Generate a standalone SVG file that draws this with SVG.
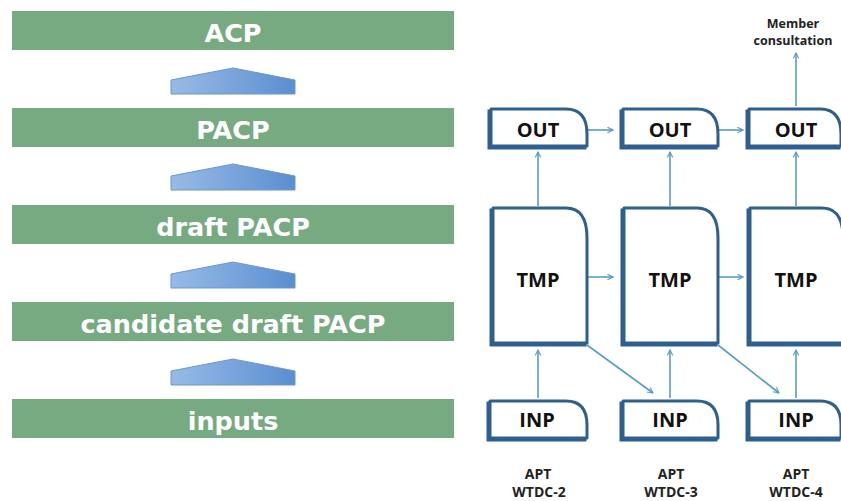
<svg xmlns="http://www.w3.org/2000/svg" width="841" height="501" viewBox="0 0 841 501">
<style>
.bar{fill:#77aa81}
.bt{font-family:"DejaVu Sans","Open Sans",sans-serif;font-weight:bold;font-size:25.5px;fill:#fff;text-anchor:middle}
.up{fill:url(#g);stroke:#6b96cf;stroke-width:1}
.box{fill:#fff;stroke:#2f5f8f;stroke-width:3;stroke-linejoin:round}
.sh{fill:none;stroke:#2f5f8f;stroke-width:3}
.nt{font-family:"Open Sans","Noto Sans",sans-serif;font-weight:bold;font-size:20px;fill:#111;text-anchor:middle}
.lt{font-family:"Open Sans","Noto Sans",sans-serif;font-weight:bold;font-size:12.5px;fill:#222;text-anchor:middle}
.lb{font-family:"Open Sans","Noto Sans",sans-serif;font-weight:bold;font-size:14px;fill:#222;text-anchor:middle}
.c{fill:none;stroke:#5b9cc2;stroke-width:1.6;marker-end:url(#a)}
</style>
<defs>
<linearGradient id="g" x1="0" x2="1" y1="0" y2="0">
<stop offset="0" stop-color="#98bbe6"/>
<stop offset="1" stop-color="#5a8ed0"/>
</linearGradient>
<marker id="a" viewBox="0 0 10 10" refX="9" refY="5" markerWidth="7" markerHeight="7" orient="auto" markerUnits="userSpaceOnUse">
<path d="M1,1 L9,5 L1,9" fill="none" stroke="#5b9cc2" stroke-width="1.6"/>
</marker>
</defs>

<g id="left">
<g id="acp"><rect class="bar" x="12" y="11" width="442" height="39"/><text class="bt" x="233" y="41.5">ACP</text></g>
<g id="pacp"><rect class="bar" x="12" y="108" width="442" height="39"/><text class="bt" x="233" y="138.5">PACP</text></g>
<g id="draft"><rect class="bar" x="12" y="205" width="442" height="39"/><text class="bt" x="233" y="235.5">draft PACP</text></g>
<g id="cand"><rect class="bar" x="12" y="302" width="442" height="39"/><text class="bt" x="233" y="332.5">candidate draft PACP</text></g>
<g id="inputs"><rect class="bar" x="12" y="399" width="442" height="39"/><text class="bt" x="233" y="429.5">inputs</text></g>
<path class="up" d="M171,94 L171,80 L233,68 L295,80 L295,94 Z"/>
<path class="up" d="M171,190 L171,176 L233,164 L295,176 L295,190 Z"/>
<path class="up" d="M171,288 L171,274 L233,262 L295,274 L295,288 Z"/>
<path class="up" d="M171,385 L171,371 L233,359 L295,371 L295,385 Z"/>
</g>

<g id="connectors">
<path class="c" d="M587,130 L613,130"/>
<path class="c" d="M718,130 L743,130"/>
<path class="c" d="M587,277 L613,277"/>
<path class="c" d="M718,277 L743,277"/>
<path class="c" d="M538,206 L538,152"/>
<path class="c" d="M670,206 L670,152"/>
<path class="c" d="M796,206 L796,152"/>
<path class="c" d="M538,398 L538,350"/>
<path class="c" d="M670,398 L670,350"/>
<path class="c" d="M796,398 L796,350"/>
<path class="c" d="M587,345 L653,393"/>
<path class="c" d="M718,345 L779,393"/>
<path class="c" d="M796,106 L796,53"/>
</g>

<g id="out1"><path class="sh" transform="translate(-2,2)" d="M491,109 L566,109 Q587,109 587,134 L587,146 L491,146 Z"/><path class="box" d="M491,109 L566,109 Q587,109 587,134 L587,146 L491,146 Z"/><text class="nt" x="538" y="137">OUT</text></g>
<g id="out2"><path class="sh" transform="translate(-2,2)" d="M623,109 L697,109 Q718,109 718,134 L718,146 L623,146 Z"/><path class="box" d="M623,109 L697,109 Q718,109 718,134 L718,146 L623,146 Z"/><text class="nt" x="670" y="137">OUT</text></g>
<g id="out3"><path class="sh" transform="translate(-2,2)" d="M749,109 L820,109 Q841,109 841,134 L841,146 L749,146 Z"/><path class="box" d="M749,109 L820,109 Q841,109 841,134 L841,146 L749,146 Z"/><text class="nt" x="796" y="137">OUT</text></g>

<g id="tmp1"><path class="sh" transform="translate(-2,2)" d="M493,208 L566,208 Q587,208 587,238 L587,343 L493,343 Z"/><path class="box" d="M493,208 L566,208 Q587,208 587,238 L587,343 L493,343 Z"/><text class="nt" x="538" y="287">TMP</text></g>
<g id="tmp2"><path class="sh" transform="translate(-2,2)" d="M624,208 L697,208 Q718,208 718,238 L718,343 L624,343 Z"/><path class="box" d="M624,208 L697,208 Q718,208 718,238 L718,343 L624,343 Z"/><text class="nt" x="670" y="287">TMP</text></g>
<g id="tmp3"><path class="sh" transform="translate(-2,2)" d="M750,208 L822,208 Q843,208 843,238 L843,343 L750,343 Z"/><path class="box" d="M750,208 L822,208 Q843,208 843,238 L843,343 L750,343 Z"/><text class="nt" x="796" y="287">TMP</text></g>

<g id="inp1"><path class="sh" transform="translate(-2,2)" d="M490,401 L566,401 Q587,401 587,425 L587,438 L490,438 Z"/><path class="box" d="M490,401 L566,401 Q587,401 587,425 L587,438 L490,438 Z"/><text class="nt" x="537" y="427">INP</text></g>
<g id="inp2"><path class="sh" transform="translate(-2,2)" d="M623,401 L697,401 Q718,401 718,425 L718,438 L623,438 Z"/><path class="box" d="M623,401 L697,401 Q718,401 718,425 L718,438 L623,438 Z"/><text class="nt" x="670" y="427">INP</text></g>
<g id="inp3"><path class="sh" transform="translate(-2,2)" d="M749,401 L820,401 Q841,401 841,425 L841,438 L749,438 Z"/><path class="box" d="M749,401 L820,401 Q841,401 841,425 L841,438 L749,438 Z"/><text class="nt" x="796" y="427">INP</text></g>

<g id="labels">
<text class="lt" x="793" y="28">Member</text>
<text class="lt" x="793" y="45">consultation</text>
<text class="lb" x="538" y="479">APT</text>
<text class="lb" x="539" y="497">WTDC-2</text>
<text class="lb" x="671" y="479">APT</text>
<text class="lb" x="671" y="497">WTDC-3</text>
<text class="lb" x="796" y="479">APT</text>
<text class="lb" x="796" y="497">WTDC-4</text>
</g>
</svg>
